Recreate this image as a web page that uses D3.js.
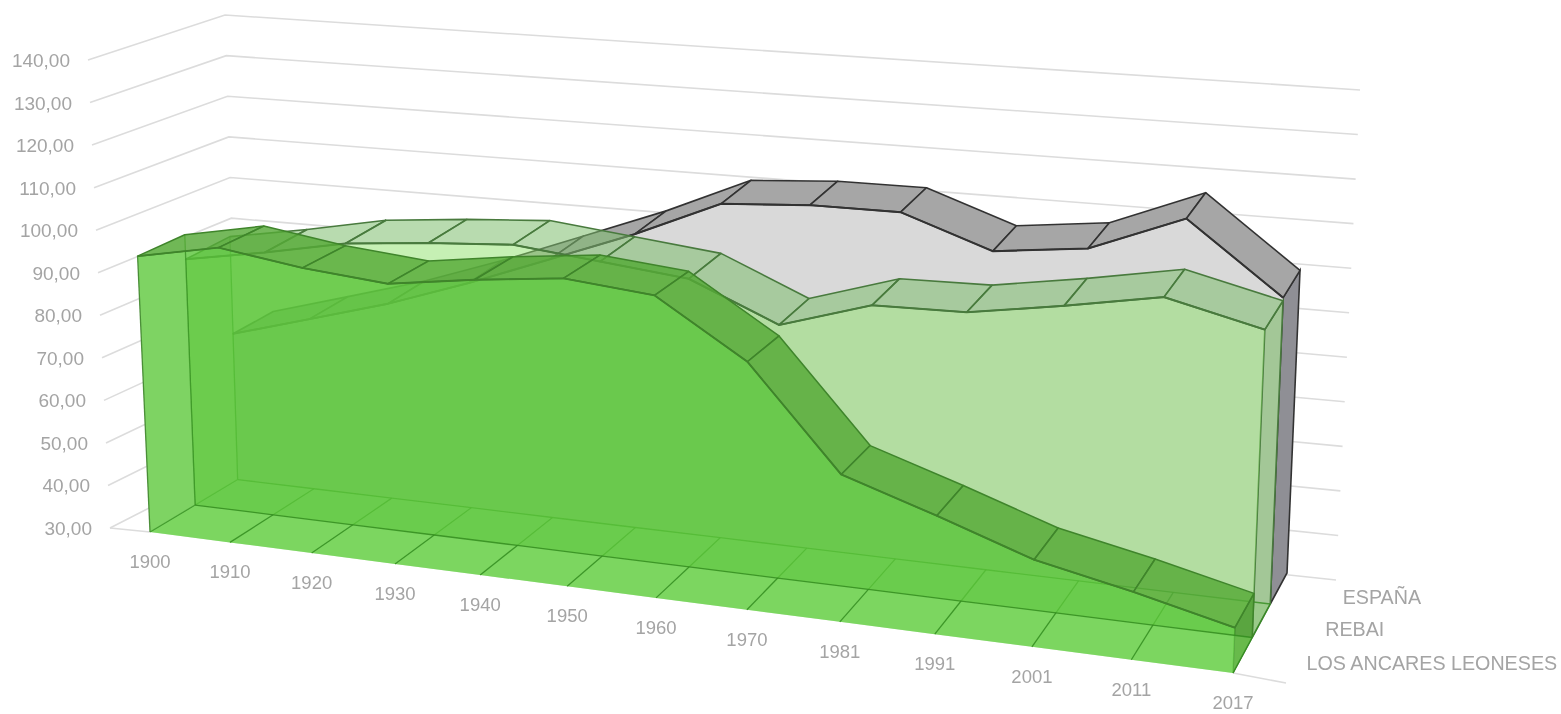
<!DOCTYPE html>
<html><head><meta charset="utf-8">
<script src="https://cdn.jsdelivr.net/npm/d3@7"></script>
<style>html,body{margin:0;padding:0;background:#fff;overflow:hidden}text{font-family:"Liberation Sans",Arial,sans-serif}</style>
</head><body><svg id="c" width="1561" height="714"></svg>
<script>
const years = ["1900","1910","1920","1930","1940","1950","1960","1970","1981","1991","2001","2011","2017"];
const valueTicks = [30,40,50,60,70,80,90,100,110,120,130,140];
const seriesNames = ["LOS ANCARES LEONESES","REBAI","ESPAÑA"];
const ancares = [94.9,98.8,96,94.3,97.2,99.5,97.7,85,62.4,55.8,48.8,44.5,39.6];
const rebai   = [89,92.5,96.5,98.5,100,98,96,87.5,94,94.5,98,102,97];
const espana  = [65.4,70.9,76.5,83.3,90.9,98.6,107.5,109,109.2,102.2,104.7,113.3,97.7];

const svg = d3.select("#c");
const defs = svg.append("defs");
defs.append("filter").attr("id","soft").append("feGaussianBlur").attr("stdDeviation",0.45);
defs.append("filter").attr("id","softText").append("feGaussianBlur").attr("stdDeviation",0.3);
const root = svg.append("g").attr("filter","url(#soft)");

// perspective scales
const uScale = d3.scaleLinear().domain([0,years.length-1]).range([0,1]);
const tOf = i => { const u = uScale(i); return u/(u+1.14*(1-u)); };
const zScale = d3.scaleLinear().domain([0,1,2,3]).range([0,.355,.69,1]);
const zHeight = d3.scaleLinear().domain([0,1,2,3]).range([0,.5,.78,1]);
const lerp = (a,b,f) => a+(b-a)*f;
const vScale = d3.scaleLinear().domain([30,140]).range([0,110]);
function P(i,v,z){
  const t = tOf(i), f = zScale(z), g = zHeight(z);
  const fx = lerp(lerp(150,277,f), lerp(1233,1287,f), t);
  const fy = lerp(lerp(532,456,f), lerp(673,573,f), t);
  const s  = lerp(lerp(4.25,4.08,g), lerp(4.72,4.47,g), t);
  const lean = lerp(lerp(-.045,-.026,f), lerp(.04,.043,f), t);
  const h = vScale(v)*s;
  return [fx+lean*h, fy-h];
}
const line = d3.line();
const closed = pts => line(pts)+"Z";
const idx = years.map((d,i)=>i);

// grid
const gridFL = {x:d3.scaleLinear().domain([30,140]).range([110,88]), y:d3.scaleLinear().domain([30,140]).range([528,60])};
const gridBL = {x:d3.scaleLinear().domain([30,140]).range([239,225]), y:d3.scaleLinear().domain([30,140]).range([462,15])};
const gridBR = {x:d3.scaleLinear().domain([30,140]).range([1336,1360]), y:d3.scaleLinear().domain([30,140]).range([580,90])};
const grid = root.append("g").attr("fill","none").attr("stroke","#dcdcdc").attr("stroke-width",1.6);
grid.selectAll("path").data(valueTicks).join("path")
  .attr("d",v=>line([[gridFL.x(v),gridFL.y(v)],[gridBL.x(v),gridBL.y(v)],[gridBR.x(v),gridBR.y(v)]]));
grid.append("path").attr("d",line([[gridFL.x(30),gridFL.y(30)],P(0,30,0)]));
grid.append("path").attr("d",line([P(years.length-1,30,0),[1286,683]]));

// occluder so that grid lines do not show through the volumes
function faceOutline(vals,z){
  return closed(idx.map(i=>P(i,vals[i],z)).concat(idx.slice().reverse().map(i=>P(i,30,z))));
}
function ribbon(vals,z0,z1,i,j){ return closed([P(i,vals[i],z0),P(j,vals[j],z0),P(j,vals[j],z1),P(i,vals[i],z1)]); }
const occ = root.append("g").attr("fill","#fff");
[[espana,2,3],[rebai,1,2],[ancares,0,1]].forEach(([vals,a,b])=>{
  occ.append("path").attr("d",faceOutline(vals,a));
  occ.append("path").attr("d",faceOutline(vals,b));
  d3.pairs(idx).forEach(([i,j])=>occ.append("path").attr("d",ribbon(vals,a,b,i,j)));
});

function drawSeries(vals,z0,z1,st){
  const g = root.append("g");
  const last = years.length-1;
  // right side panel
  g.append("path").attr("d",closed([P(last,vals[last],z0),P(last,30,z0),P(last,30,z1),P(last,vals[last],z1)]))
    .attr("fill",st.side).attr("stroke",st.line).attr("stroke-width",st.sw);
  // front face
  g.append("path").attr("d",faceOutline(vals,z0)).attr("fill",st.face);
  // floor
  if(st.floor){
    d3.pairs(idx).forEach(([i,j])=>{
      g.append("path").attr("d",closed([P(i,30,z0),P(j,30,z0),P(j,30,z1),P(i,30,z1)])).attr("fill",st.floor);
    });
    g.append("path").attr("d",line(idx.map(i=>P(i,30,z1)))).attr("fill","none").attr("stroke",st.floorLine).attr("stroke-width",1.3);
    idx.forEach(i=>g.append("path").attr("d",line([P(i,30,z0),P(i,30,z1)])).attr("fill","none").attr("stroke",st.floorLine).attr("stroke-width",1.3));
    g.append("path").attr("d",line([P(0,vals[0],z1),P(0,30,z1)])).attr("fill","none").attr("stroke",st.floorLine).attr("stroke-width",1.3);
  }
  // left panel
  g.append("path").attr("d",closed([P(0,vals[0],z0),P(0,30,z0),P(0,30,z1),P(0,vals[0],z1)])).attr("fill",st.left);
  g.append("path").attr("d",line([P(0,vals[0],z0),P(0,30,z0)])).attr("fill","none").attr("stroke",st.line).attr("stroke-width",1.3).attr("opacity",st.leftOp);
  // top ribbon
  d3.pairs(idx).forEach(([i,j])=>{
    g.append("path").attr("d",ribbon(vals,z0,z1,i,j)).attr("fill",st.strip).attr("stroke",st.line).attr("stroke-width",st.sw).attr("stroke-linejoin","round");
  });
  g.append("path").attr("d",line(idx.map(i=>P(i,vals[i],z0)))).attr("fill","none").attr("stroke",st.line).attr("stroke-width",st.sw+.4);
}
drawSeries(espana,2,3,{face:"#d9d9d9",side:"#8f8f95",left:"rgba(200,200,200,.2)",strip:"#a6a6a6",line:"#333",sw:1.6,leftOp:.2});
drawSeries(rebai,1,2,{face:"rgba(141,225,105,.5)",side:"#a3c797",left:"rgba(141,225,105,.25)",strip:"rgba(125,190,110,.55)",line:"#487a3e",sw:1.6,leftOp:.5,floor:"rgba(120,215,90,.2)",floorLine:"rgba(50,140,30,.8)"});
drawSeries(ancares,0,1,{face:"rgba(89,196,56,.8)",side:"#5aa540",left:"rgba(140,225,115,.22)",strip:"rgba(85,170,55,.82)",line:"#3f852c",sw:1.5,leftOp:.9,floor:"rgba(130,225,100,.35)",floorLine:"rgba(50,140,30,.85)"});

// labels
const txt = svg.append("g").attr("fill","#a4a4a4").attr("filter","url(#softText)");
txt.selectAll(".v").data(valueTicks).join("text").attr("class","v")
  .attr("font-size",19).attr("text-anchor","end")
  .attr("x",v=>gridFL.x(v)-18).attr("y",v=>gridFL.y(v)+7)
  .text(v=>v.toFixed(2).replace(".",","));
txt.selectAll(".c").data(years).join("text").attr("class","c")
  .attr("font-size",18.5).attr("text-anchor","middle")
  .attr("x",(d,i)=>P(i,30,0)[0]).attr("y",(d,i)=>P(i,30,0)[1]+36)
  .text(d=>d);
txt.selectAll(".s").data(seriesNames).join("text").attr("class","s")
  .attr("font-size",19.7)
  .attr("x",(d,k)=>P(years.length-1,30,k+.5)[0]+64).attr("y",(d,k)=>P(years.length-1,30,k+.5)[1]+15)
  .text(d=>d);
</script></body></html>
